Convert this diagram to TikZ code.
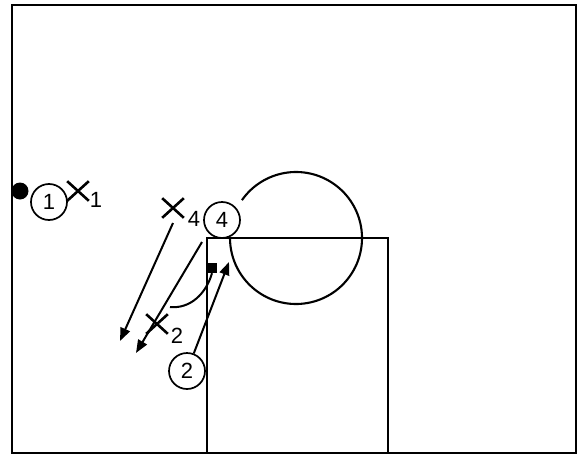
\documentclass[tikz,border=0pt]{standalone}
\usepackage{fontspec}
\setmainfont{Liberation Sans}
\usetikzlibrary{arrows.meta,shapes.misc}
\begin{document}
\begin{tikzpicture}[x=1pt,y=-1pt,
  court/.style={line width=2.8pt},
  lanel/.style={line width=2.1pt},
  player/.style={circle,draw,line width=1.7pt,minimum size=36pt,inner sep=0pt,font=\fontsize{22}{22}\selectfont},
  defender/.style={cross out,draw,line width=2.6pt,minimum width=19pt,minimum height=17pt,inner sep=0pt},
  sub/.style={font=\fontsize{22}{22}\selectfont,inner sep=0pt},
  move/.style={line width=2pt,-{Triangle[length=13pt,width=10pt]}},
  ball/.style={circle,fill,minimum size=17pt,inner sep=0pt},
  screenpt/.style={fill,minimum size=10pt,inner sep=0pt}]
\useasboundingbox (0,0) rectangle (580,455);
% court
\draw[court] (12,5) rectangle (576,453);
\coordinate (corner) at (207,238);
\draw[lanel] (207,453) -- (corner) -- (388,238) -- (388,453);
\draw[lanel] (296,238) ++(145:66pt) arc[start angle=145,end angle=-180,radius=66pt];
% players
\node[ball] (ball) at (20,191) {};
\node[player,fill=white] (p1) at (49,202) {1};
\node[player,fill=white] (p4) at (222,220) {4};
\node[player,fill=white] (p2) at (187,371) {2};
% defenders
\node[defender] (x1) at (78,191) {};
\node[sub] (s1) at (96,200) {1};
\node[defender] (x4) at (173,208) {};
\node[sub] (s4) at (194,219) {4};
\node[defender] (x2) at (157,324) {};
\node[sub] (s2) at (177,336) {2};
% screen point
\node[screenpt] (scr) at (212,268) {};
% movement
\coordinate (astart) at (173,223);
\coordinate (aend) at (120,341);
\coordinate (bstart) at (202,242);
\coordinate (bend) at (136,353);
\coordinate (cstart) at (170,307);
\coordinate (dend) at (229,262);
\draw[move] (astart) -- (aend);
\draw[move] (bstart) -- (bend);
\draw[line width=2pt] (cstart) .. controls (190,309) and (206,294) .. (scr.south);
\draw[move] (p2) -- (dend);
\end{tikzpicture}
\end{document}
